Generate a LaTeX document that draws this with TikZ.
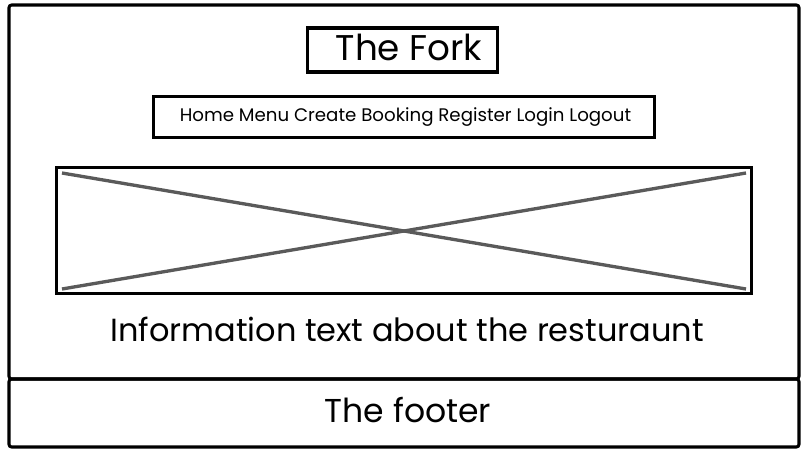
\documentclass[tikz,border=0pt]{standalone}
\usepackage{fontspec}
\setmainfont{Poppins}
\definecolor{xgray}{HTML}{5A5A5A}
\tikzset{
  frame/.style={draw=black, line width=2.3pt, rounded corners=2pt},
  box/.style={draw=black, line width=2.3pt, inner sep=0pt},
  xline/.style={draw=xgray, line width=2.5pt},
  lbl/.style={inner sep=0pt, anchor=center}
}
\begin{document}
\begin{tikzpicture}[x=0.75pt,y=-0.75pt]
\useasboundingbox (0,0) rectangle (808,451);
\draw[frame] (9,5) rectangle (799,379);
\draw[frame] (9,379) rectangle (799,447);
\node[box, minimum width=190*0.75pt, minimum height=44*0.75pt] (title) at (402.5,50) {};
\node[lbl, font=\fontsize{26.8}{30}\selectfont] (titletext) at (409,47) {The Fork};
\node[box, minimum width=501*0.75pt, minimum height=41*0.75pt] (nav) at (404,117) {};
\node[lbl, font=\fontsize{13.65}{16}\selectfont] (navtext) at (405.5,117) {Home Menu Create Booking Register Login Logout};
\node[box, minimum width=695*0.75pt, minimum height=126*0.75pt] (img) at (404,230.5) {};
\coordinate (a) at (62,173);
\coordinate (b) at (746,289);
\coordinate (c) at (62,289);
\coordinate (d) at (746,173);
\draw[xline] (a) -- (b);
\draw[xline] (c) -- (d);
\node[lbl, font=\fontsize{24}{28}\selectfont] (info) at (407,329) {Information text about the resturaunt};
\node[lbl, font=\fontsize{24.8}{28}\selectfont] (footer) at (408,410) {The footer};
\end{tikzpicture}
\end{document}
